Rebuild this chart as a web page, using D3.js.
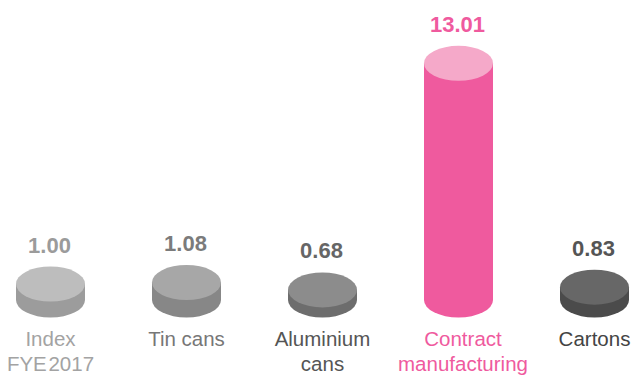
<!DOCTYPE html>
<html><head><meta charset="utf-8">
<script src="https://cdn.jsdelivr.net/npm/d3@7/dist/d3.min.js"></script>
<style>body{margin:0;background:#fff;}svg{display:block;font-family:"Liberation Sans",Arial,sans-serif;}</style>
</head><body><svg id="c" width="635" height="376"></svg>
<script>
const categories = [["Index","FYE 2017"],["Tin cans"],["Aluminium","cans"],["Contract","manufacturing"],["Cartons"]];
const values = [1.00, 1.08, 0.68, 13.01, 0.83];
const valueLabels = ["1.00","1.08","0.68","13.01","0.83"];
const topColors = ["#bdbdbd","#a7a7a7","#8c8c8c","#f5a9c9","#676767"];
const sideColors = ["#9c9c9c","#878787","#6d6d6d","#ef5a9e","#4b4b4b"];
const valueColors = ["#9b9b9b","#7b7b7b","#666666","#ef5a9e","#555555"];
const labelColors = ["#a3a3a3","#777777","#555555","#ef5a9e","#444444"];

const svg = d3.select("#c");
const x = d3.scaleBand().domain(d3.range(values.length)).range([-17.5, 662.5]).paddingInner(0.49).paddingOuter(0.245);
const baseY = 300;
const h = d3.scaleLinear().domain([0.13, 13.01]).range([0, 236.7]);
const ry = 17.5;

const g = svg.selectAll("g.bar").data(values).join("g").attr("class","bar");
g.each(function(v, i){
  const el = d3.select(this);
  const cx = x(i) + x.bandwidth()/2;
  const rx = 34.5;
  const top = baseY - h(v);
  el.append("path")
    .attr("d", `M${cx-rx},${top} L${cx-rx},${baseY} A${rx},${ry} 0 0 0 ${cx+rx},${baseY} L${cx+rx},${top} Z`)
    .attr("fill", sideColors[i]);
  el.append("ellipse").attr("cx", cx).attr("cy", top).attr("rx", rx).attr("ry", ry).attr("fill", topColors[i]);
  el.append("text").attr("x", cx - 1).attr("y", top - ry - 14)
    .attr("text-anchor","middle").attr("font-size", 22).attr("font-weight","bold")
    .attr("fill", valueColors[i]).text(valueLabels[i]);
  const lx = cx + (categories[i].length > 1 && i === 3 ? 4.5 : 0);
  const t = el.append("text").attr("text-anchor","middle").attr("font-size", 20.5).attr("fill", labelColors[i]);
  categories[i].forEach((s, j) => {
    t.append("tspan").attr("x", lx).attr("y", 346 + j*25)
      .attr("word-spacing", s === "FYE 2017" ? -4 : null).text(s);
  });
});
</script></body></html>
